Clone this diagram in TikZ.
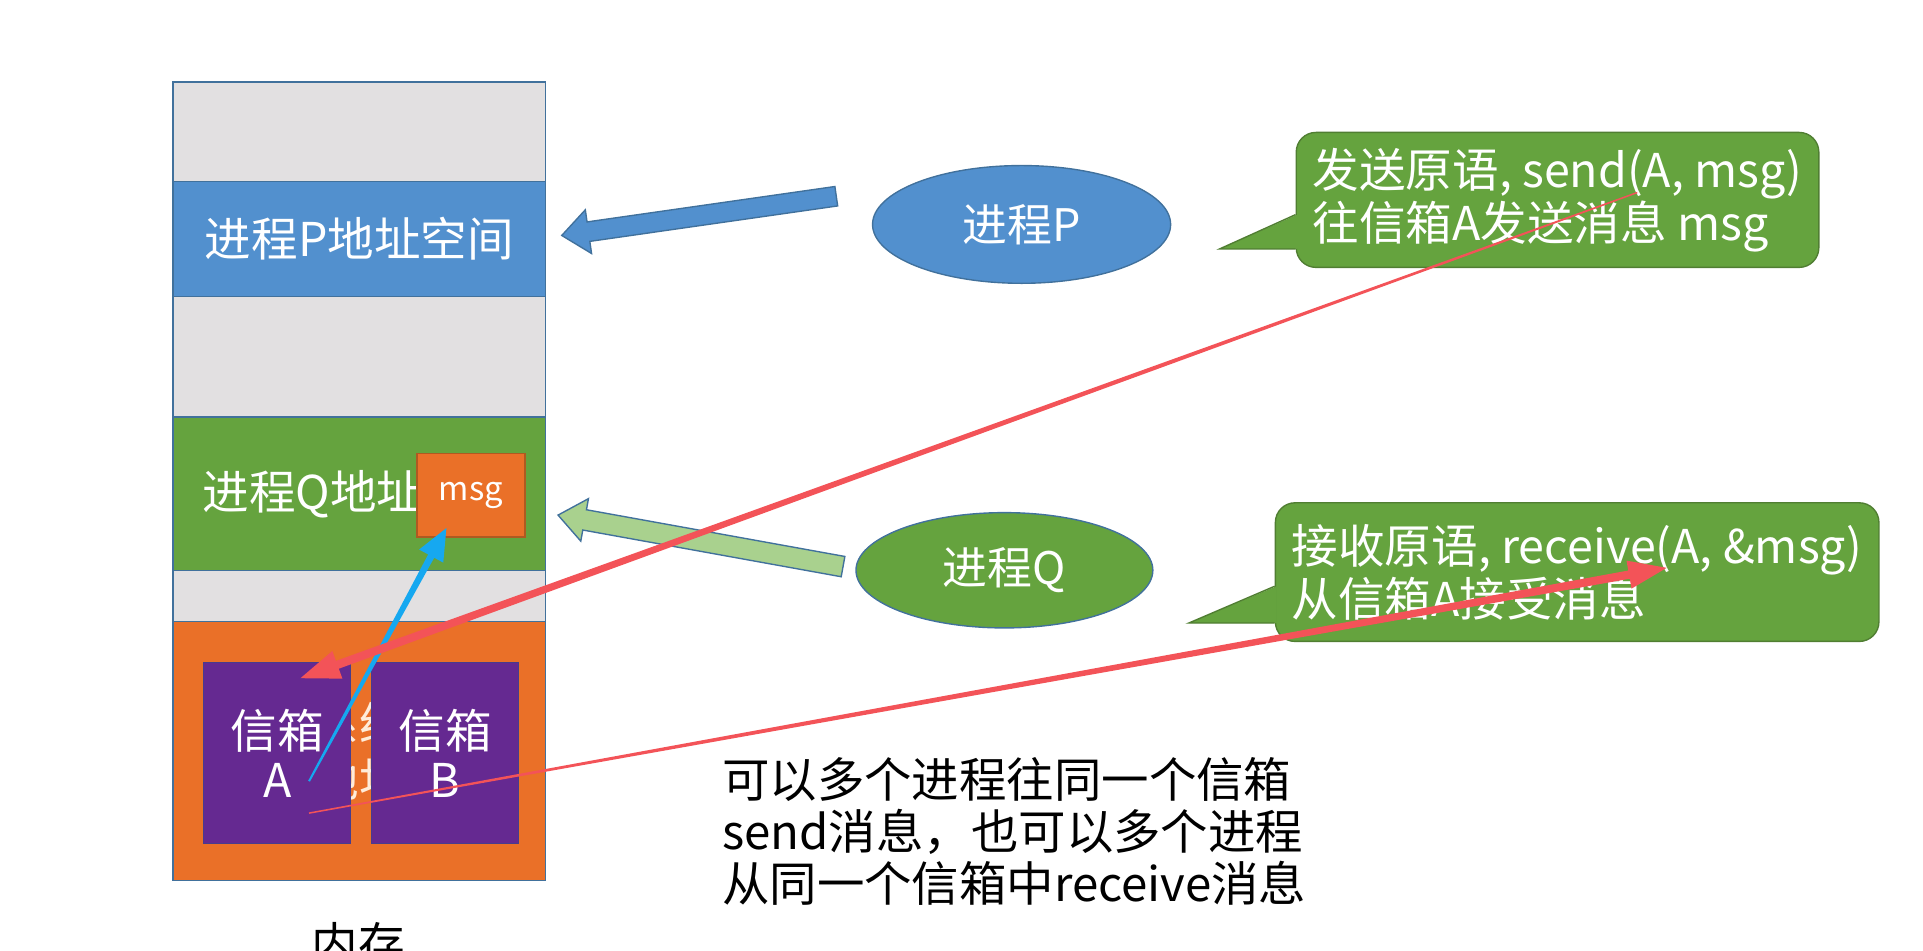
\documentclass[tikz,border=0pt]{standalone}
\usepackage{fontspec}
\setmainfont{Noto Sans CJK SC}
\usetikzlibrary{shapes.geometric,calc}

\definecolor{memgray}{RGB}{226,224,225}
\definecolor{membd}{RGB}{65,113,156}
\definecolor{pblue}{RGB}{82,144,206}
\definecolor{qgreen}{RGB}{101,163,62}
\definecolor{notebd}{RGB}{80,126,50}
\definecolor{lgreen}{RGB}{169,209,142}
\definecolor{morange}{RGB}{234,112,40}
\definecolor{orangebd}{RGB}{174,90,33}
\definecolor{mpurple}{RGB}{101,41,145}
\definecolor{purplebd}{RGB}{72,60,140}
\definecolor{penred}{RGB}{243,83,88}
\definecolor{pencyan}{RGB}{22,168,240}

\tikzset{
	band/.style={draw=membd, line width=0.8pt, minimum width=7.6cm, inner sep=0pt, outer sep=0pt, text=white, font=\fontsize{27}{33}\selectfont},
	mailbox/.style={draw=purplebd, line width=0.8pt, fill=mpurple, minimum width=3cm, minimum height=3.7cm, inner sep=0pt, align=center, text=white, font=\fontsize{27}{28.5}\selectfont},
	proc/.style={ellipse, draw=membd, line width=0.8pt, inner sep=0pt, text=white, font=\fontsize{26}{28}\selectfont},
	note/.style={draw=notebd, line width=0.8pt, fill=qgreen, rounded corners=0.4cm, inner sep=0pt, align=left, text=white, font=\fontsize{27}{31}\selectfont},
	blockarrow/.style={draw=membd, line width=0.8pt},
}

\begin{document}
\begin{tikzpicture}[x=0.025cm, y=-0.025cm]
		\path[use as bounding box, clip] (0,0) rectangle (1568,775);
		
		%Memory
		\node[band, fill=memgray, minimum height=2.025cm] (top) at (293,107.5) {};
		\node[band, fill=pblue, minimum height=2.35cm] (pspace) at (293,195) {进程P地址空间};
		\node[band, fill=memgray, minimum height=2.45cm] (gap1) at (293,291) {};
		\node[band, fill=qgreen, minimum height=3.125cm] (qspace) at (293,402.5) {};
		\node[anchor=west, inner sep=0pt, text=white, font=\fontsize{27}{33}\selectfont] (qtext) at (165,403) {进程Q地址};
		\node[band, fill=memgray, minimum height=1.05cm] (gap2) at (293,486) {};
		\node[band, fill=morange, minimum height=5.275cm, text=orange!15, align=center] (kspace) at (293,612.5) {系统\\地址};
		
		\node[draw=orangebd, line width=0.8pt, fill=morange, minimum width=2.2cm, minimum height=1.7cm, inner sep=0pt, text=white, font=\fontsize{19}{20}\selectfont] (msg) at (384,404) {msg};
		
		\node[mailbox] (mboxA) at (226,614) {信箱\\A};
		\node[mailbox] (mboxB) at (363,614) {信箱\\B};
		
		\node at (292,770) [font=\fontsize{27}{30}\selectfont] (mem) {内存};
		
		%Processes
		\node[proc, fill=pblue, minimum width=6.075cm, minimum height=2.4cm] (procP) at (833,183) {进程P};
		\node[proc, fill=qgreen, minimum width=6.05cm, minimum height=2.35cm] (procQ) at (819,465) {进程Q};
		
		\coordinate (pt) at ($(procP.west)+(-29,-23)$);
		\coordinate (ph) at ($(pspace.east)+(13,-3)$);
		\coordinate (pb) at ($(ph)!0.55cm!(pt)$);
		\filldraw[blockarrow, fill=pblue] ($(pt)!0.2cm!90:(ph)$) -- ($(pb)!0.2cm!-90:(pt)$) -- ($(pb)!0.45cm!-90:(pt)$) -- (ph) -- ($(pb)!0.45cm!90:(pt)$) -- ($(pb)!0.2cm!90:(pt)$) -- ($(pt)!0.2cm!-90:(ph)$) -- cycle;
		
		\coordinate (qt) at ($(procQ.west)+(-10,-3)$);
		\coordinate (qh) at ($(qspace.east)+(10,17.5)$);
		\coordinate (qb) at ($(qh)!0.55cm!(qt)$);
		\filldraw[blockarrow, fill=lgreen] ($(qt)!0.21cm!90:(qh)$) -- ($(qb)!0.21cm!-90:(qt)$) -- ($(qb)!0.44cm!-90:(qt)$) -- (qh) -- ($(qb)!0.44cm!90:(qt)$) -- ($(qb)!0.21cm!90:(qt)$) -- ($(qt)!0.21cm!-90:(qh)$) -- cycle;
		
		%Notes
		\node[note, minimum width=10.65cm, minimum height=2.75cm] (sendnote) at (1270,163) {发送原语, send(A, msg)\\往信箱A发送消息 msg};
		\coordinate (stail) at ($(sendnote.west)+(-62,40)$);
		\fill[qgreen] ($(sendnote.west)+(1.5,12)$) -- (stail) -- ($(sendnote.west)+(1.5,40)$) -- cycle;
		\draw[notebd, line width=0.8pt] ($(sendnote.west)+(0,12)$) -- (stail) -- ($(sendnote.west)+(0,40)$);
		
		\node[note, minimum width=12.3cm, minimum height=2.825cm] (recvnote) at (1286,466.5) {接收原语, receive(A, \&msg)\\从信箱A接受消息};
		\coordinate (rtail) at ($(recvnote.west)+(-70,41.5)$);
		\fill[qgreen] ($(recvnote.west)+(1.5,11.5)$) -- (rtail) -- ($(recvnote.west)+(1.5,41.5)$) -- cycle;
		\draw[notebd, line width=0.8pt] ($(recvnote.west)+(0,11.5)$) -- (rtail) -- ($(recvnote.west)+(0,41.5)$);
		
		\node[align=left, font=\fontsize{27.5}{30}\selectfont] (remark) at (827,678) {可以多个进程往同一个信箱\\send消息，也可以多个进程\\从同一个信箱中receive消息};
		
		%Pen strokes
		\coordinate (cs) at ($(mboxA.center)+(26,23)$);
		\coordinate (ch) at ($(msg.south)+(-20,-8)$);
		\coordinate (cb) at ($(ch)!0.65cm!(cs)$);
		\fill[pencyan] ($(cs)!0.02cm!90:(ch)$) -- ($(cb)!0.07cm!-90:(cs)$) -- ($(cb)!0.28cm!-90:(cs)$) -- (ch) -- ($(cb)!0.28cm!90:(cs)$) -- ($(cb)!0.07cm!90:(cs)$) -- ($(cs)!0.02cm!-90:(ch)$) -- cycle;
		
		\coordinate (ss) at ($(sendnote.center)+(65,-6)$);
		\coordinate (sh) at ($(mboxA.center)+(19,-61)$);
		\coordinate (sb) at ($(sh)!0.8cm!(ss)$);
		\fill[penred] ($(ss)!0.015cm!90:(sh)$) -- ($(sb)!0.085cm!-90:(ss)$) -- ($(sb)!0.3cm!-90:(ss)$) -- (sh) -- ($(sb)!0.3cm!90:(ss)$) -- ($(sb)!0.085cm!90:(ss)$) -- ($(ss)!0.015cm!-90:(sh)$) -- cycle;
		
		\coordinate (rs) at ($(mboxA.center)+(26,49)$);
		\coordinate (rh) at ($(recvnote.center)+(73,-3.5)$);
		\coordinate (rb) at ($(rh)!0.78cm!(rs)$);
		\fill[penred] ($(rs)!0.015cm!90:(rh)$) -- ($(rb)!0.085cm!-90:(rs)$) -- ($(rb)!0.29cm!-90:(rs)$) -- (rh) -- ($(rb)!0.29cm!90:(rs)$) -- ($(rb)!0.085cm!90:(rs)$) -- ($(rs)!0.015cm!-90:(rh)$) -- cycle;
		
\end{tikzpicture}
\end{document}
